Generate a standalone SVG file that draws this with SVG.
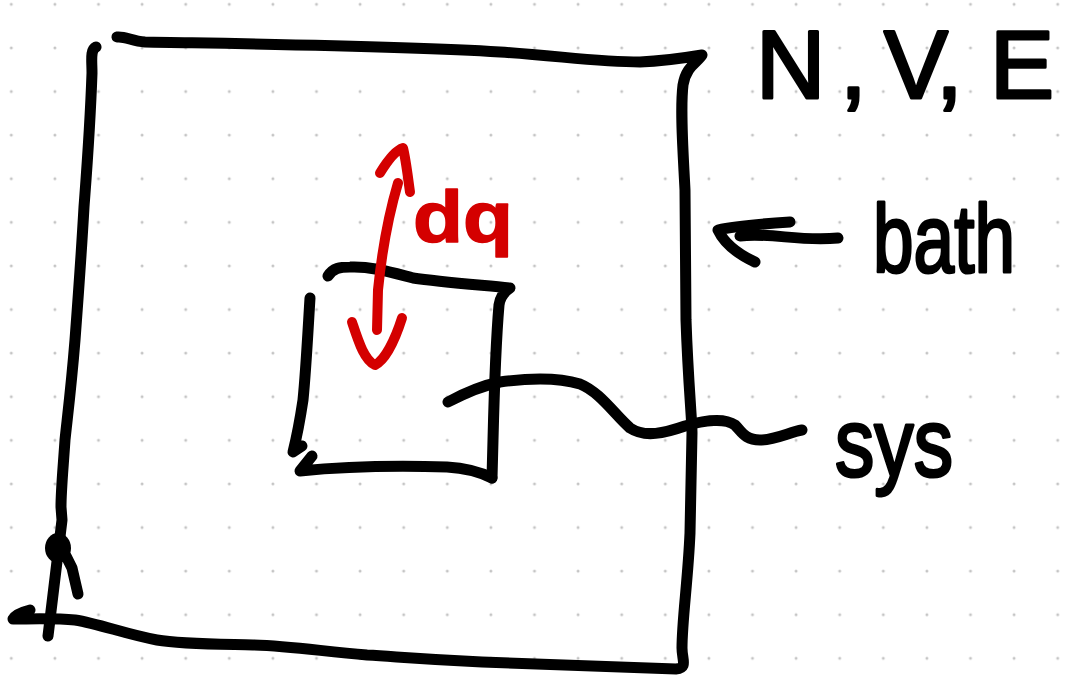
<svg xmlns="http://www.w3.org/2000/svg" width="1069" height="676" viewBox="0 0 1069 676">
  <defs>
    <pattern id="dots" patternUnits="userSpaceOnUse" x="-10.5" y="-17.5" width="43.6" height="43.6">
      <circle cx="21.8" cy="21.8" r="1.5" fill="#c4c4c4"/>
    </pattern>
    <style>
      .ink { fill: none; stroke: #000; stroke-width: 11; stroke-linecap: round; stroke-linejoin: round; }
      .red { fill: none; stroke: #d40000; stroke-width: 10; stroke-linecap: round; stroke-linejoin: round; }
      .hand { font-family: "Liberation Sans", Arial, sans-serif; fill: #000; stroke: #000; stroke-width: 3; stroke-linejoin: round; }
      .hand-red { font-family: "Liberation Sans", Arial, sans-serif; font-weight: bold; fill: #d40000; stroke: #d40000; stroke-width: 1.5; stroke-linejoin: round; }
    </style>
  </defs>

  <!-- dotted paper -->
  <rect width="1069" height="676" fill="#fff"/>
  <rect width="1069" height="676" fill="url(#dots)"/>

  <!-- outer box: the bath -->
  <g id="bath-box">
    <path class="ink" d="M96,47 C90,50 92,60 92,73 C90,130 86,180 84,207 C81,260 78,300 75,340 C71,390 67,420 65,440 C63,470 61,490 61,507 L62,520 L48,636"/>
    <ellipse cx="58" cy="548" rx="13" ry="15" fill="#000"/>
    <path class="ink" d="M66,556 L72,568 L78,594" stroke-width="14"/>
    <path class="ink" d="M117,37 C125,36 132,41 145,42 C250,44 400,46 500,52 C560,56 600,62 640,62 C665,61 690,57 702,55 C698,62 686,66 683,85 C680,110 683,150 685,190 L686,320 C688,380 692,420 692,433 L690,533 C688,580 682,620 682,648 C682,660 688,668 676,669 C620,667 560,665 482,662 C420,659 400,657 367,655 C320,651 290,646 253,645 C210,644 180,644 157,640 C125,634 100,624 75,620 C55,618 30,619 13,619 C15,615 22,612 30,610"/>
  </g>

  <!-- inner box: the system -->
  <g id="system-box">
    <path class="ink" d="M328,276 C333,268 340,267 350,267 C370,266 390,272 413,278 C440,282 480,285 510,288 C504,292 500,297 499,305 C496,340 494,400 493,440 L492,478"/>
    <path class="ink" d="M310,298 C308,330 306,370 303,400 C300,420 296,440 293,452 L302,446"/>
    <path class="ink" d="M312,456 L300,471 C330,468 380,465 447,467 C465,468 480,472 492,478"/>
  </g>

  <!-- connectors -->
  <g id="connectors">
    <!-- arrow from the bath label to the outer box -->
    <path class="ink" d="M790,222 C760,224 735,226 718,230 C725,245 740,255 755,262"/>
    <path class="ink" d="M740,236 C770,232 800,242 838,238"/>
    <!-- wavy leader from the sys label into the inner box -->
    <path class="ink" d="M448,402 C465,393 480,386 500,382 C530,378 560,378 580,384 C600,392 615,415 630,428 C645,438 665,433 685,426 C705,420 725,418 735,425 C742,432 745,440 760,440 C775,440 790,432 802,430"/>
    <!-- heat exchange, two-headed -->
    <path class="red" d="M380,173 C388,160 396,150 403,148 C406,160 408,178 410,192"/>
    <path class="red" d="M398,183 C390,210 382,250 378,290 L377,330"/>
    <path class="red" d="M352,322 C358,340 364,360 375,365 C385,360 395,340 402,318"/>
  </g>

  <!-- labels -->
  <g id="label-nve">
    <text class="hand" font-size="96" x="756 840 852 884 936 948 990" y="98">N, V, E</text>
  </g>
  <g id="label-bath">
    <text class="hand" font-size="96" x="873" y="272" textLength="142" lengthAdjust="spacingAndGlyphs">bath</text>
  </g>
  <g id="label-sys">
    <text class="hand" font-size="96" x="835" y="476" textLength="118" lengthAdjust="spacingAndGlyphs">sys</text>
  </g>
  <g id="label-dq">
    <text class="hand-red" font-size="72" x="413" y="242" textLength="100" lengthAdjust="spacingAndGlyphs">dq</text>
  </g>
</svg>
